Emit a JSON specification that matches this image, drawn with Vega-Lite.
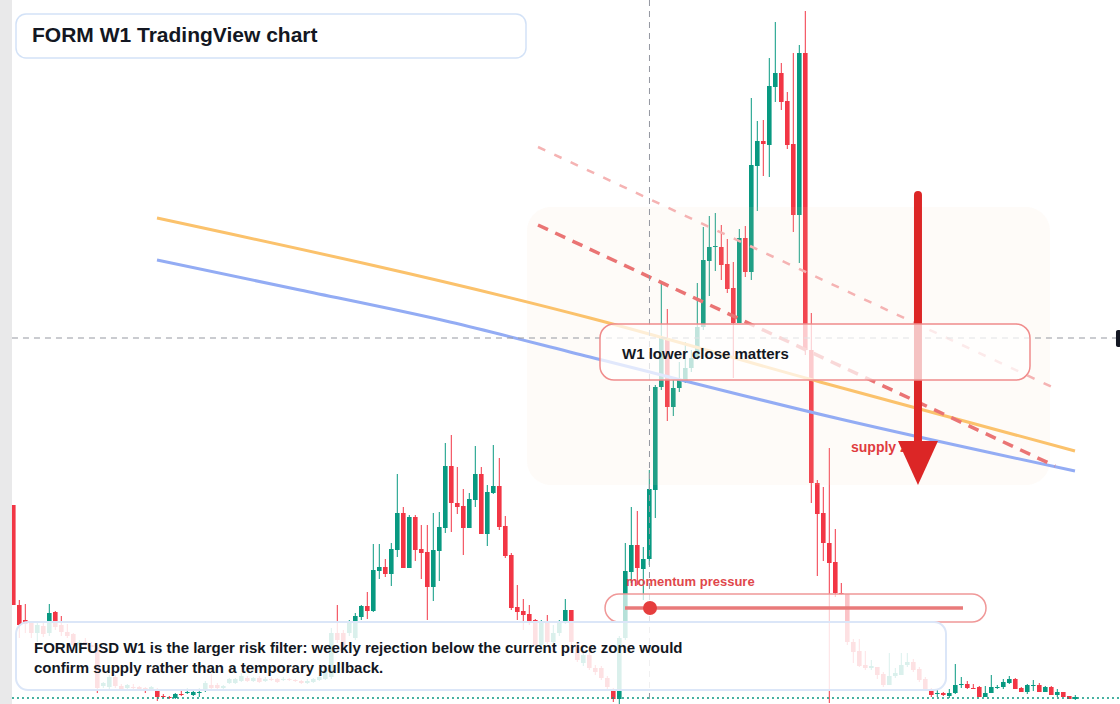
{
  "$schema": "https://vega.github.io/schema/vega-lite/v6.json",
  "width": 1120,
  "height": 704,
  "padding": 0,
  "autosize": {"type": "none"},
  "background": "#ffffff",
  "config": {
    "view": {"stroke": null},
    "scale": {"continuousPadding": 0},
    "axis": {"labels": false, "ticks": false, "domain": false, "title": null, "grid": true, "gridColor": "#c9cdd4", "gridDash": [1, 3], "gridWidth": 1},
    "text": {"font": "Liberation Sans"}
  },
  "datasets": {
    "candles": [
      {"x":2,"o":1.99,"h":1.99,"l":0.99,"c":0.99},
      {"x":3,"o":0.99,"h":1.04,"l":0.66,"c":0.79},
      {"x":4,"o":0.84,"h":1.00,"l":0.71,"c":0.80},
      {"x":5,"o":0.81,"h":0.83,"l":0.66,"c":0.71},
      {"x":6,"o":0.71,"h":0.82,"l":0.62,"c":0.79},
      {"x":7,"o":0.78,"h":0.82,"l":0.67,"c":0.70},
      {"x":8,"o":0.71,"h":1.00,"l":0.68,"c":0.91},
      {"x":9,"o":0.92,"h":0.93,"l":0.74,"c":0.77},
      {"x":10,"o":0.79,"h":0.88,"l":0.68,"c":0.72},
      {"x":11,"o":0.72,"h":0.80,"l":0.66,"c":0.68},
      {"x":12,"o":0.70,"h":0.71,"l":0.56,"c":0.59},
      {"x":13,"o":0.59,"h":0.64,"l":0.54,"c":0.62},
      {"x":14,"o":0.62,"h":0.66,"l":0.56,"c":0.59},
      {"x":15,"o":0.59,"h":0.62,"l":0.54,"c":0.57},
      {"x":16,"o":0.57,"h":0.59,"l":0.11,"c":0.16},
      {"x":17,"o":0.18,"h":0.22,"l":0.16,"c":0.21},
      {"x":18,"o":0.17,"h":0.29,"l":0.15,"c":0.27},
      {"x":19,"o":0.27,"h":0.29,"l":0.16,"c":0.18},
      {"x":20,"o":0.18,"h":0.20,"l":0.14,"c":0.15},
      {"x":21,"o":0.16,"h":0.20,"l":0.15,"c":0.19},
      {"x":22,"o":0.17,"h":0.20,"l":0.14,"c":0.16},
      {"x":23,"o":0.17,"h":0.18,"l":0.13,"c":0.14},
      {"x":24,"o":0.16,"h":0.17,"l":0.11,"c":0.14},
      {"x":25,"o":0.14,"h":0.18,"l":0.13,"c":0.17},
      {"x":26,"o":0.15,"h":0.16,"l":0.03,"c":0.07},
      {"x":27,"o":0.08,"h":0.10,"l":0.06,"c":0.07},
      {"x":28,"o":0.07,"h":0.08,"l":0.05,"c":0.06},
      {"x":29,"o":0.06,"h":0.11,"l":0.05,"c":0.10},
      {"x":30,"o":0.10,"h":0.14,"l":0.08,"c":0.09},
      {"x":31,"o":0.11,"h":0.16,"l":0.10,"c":0.12},
      {"x":32,"o":0.09,"h":0.14,"l":0.08,"c":0.12},
      {"x":33,"o":0.11,"h":0.16,"l":0.07,"c":0.12},
      {"x":34,"o":0.13,"h":0.23,"l":0.12,"c":0.21},
      {"x":35,"o":0.19,"h":0.30,"l":0.15,"c":0.16},
      {"x":36,"o":0.19,"h":0.21,"l":0.15,"c":0.16},
      {"x":37,"o":0.16,"h":0.19,"l":0.14,"c":0.18},
      {"x":38,"o":0.21,"h":0.26,"l":0.20,"c":0.25},
      {"x":39,"o":0.21,"h":0.26,"l":0.20,"c":0.25},
      {"x":40,"o":0.23,"h":0.31,"l":0.22,"c":0.28},
      {"x":41,"o":0.26,"h":0.28,"l":0.22,"c":0.23},
      {"x":42,"o":0.23,"h":0.27,"l":0.22,"c":0.26},
      {"x":43,"o":0.26,"h":0.28,"l":0.21,"c":0.22},
      {"x":44,"o":0.23,"h":0.27,"l":0.22,"c":0.25},
      {"x":45,"o":0.25,"h":0.27,"l":0.23,"c":0.24},
      {"x":46,"o":0.25,"h":0.26,"l":0.21,"c":0.22},
      {"x":47,"o":0.24,"h":0.27,"l":0.23,"c":0.25},
      {"x":48,"o":0.25,"h":0.26,"l":0.23,"c":0.24},
      {"x":49,"o":0.24,"h":0.25,"l":0.22,"c":0.23},
      {"x":50,"o":0.23,"h":0.24,"l":0.20,"c":0.21},
      {"x":51,"o":0.21,"h":0.25,"l":0.20,"c":0.23},
      {"x":52,"o":0.22,"h":0.26,"l":0.21,"c":0.25},
      {"x":53,"o":0.24,"h":0.29,"l":0.23,"c":0.27},
      {"x":54,"o":0.25,"h":0.36,"l":0.24,"c":0.34},
      {"x":55,"o":0.27,"h":0.76,"l":0.25,"c":0.71},
      {"x":56,"o":0.71,"h":0.99,"l":0.61,"c":0.64},
      {"x":57,"o":0.71,"h":0.74,"l":0.54,"c":0.57},
      {"x":58,"o":0.71,"h":0.84,"l":0.68,"c":0.81},
      {"x":59,"o":0.66,"h":0.91,"l":0.64,"c":0.88},
      {"x":60,"o":0.87,"h":0.99,"l":0.84,"c":0.98},
      {"x":61,"o":0.98,"h":1.12,"l":0.85,"c":0.93},
      {"x":62,"o":0.93,"h":1.60,"l":0.92,"c":1.34},
      {"x":63,"o":1.33,"h":1.60,"l":1.25,"c":1.37},
      {"x":64,"o":1.37,"h":1.45,"l":1.27,"c":1.30},
      {"x":65,"o":1.30,"h":1.61,"l":1.18,"c":1.55},
      {"x":66,"o":1.54,"h":2.30,"l":1.47,"c":1.91},
      {"x":67,"o":1.91,"h":1.97,"l":1.36,"c":1.36},
      {"x":68,"o":1.36,"h":1.89,"l":1.36,"c":1.87},
      {"x":69,"o":1.87,"h":1.89,"l":1.43,"c":1.54},
      {"x":70,"o":1.55,"h":1.79,"l":1.25,"c":1.51},
      {"x":71,"o":1.52,"h":1.79,"l":0.84,"c":1.17},
      {"x":72,"o":1.17,"h":1.91,"l":1.03,"c":1.54},
      {"x":73,"o":1.53,"h":1.92,"l":1.23,"c":1.77},
      {"x":74,"o":1.76,"h":2.61,"l":1.71,"c":2.38},
      {"x":75,"o":2.38,"h":2.69,"l":1.72,"c":2.01},
      {"x":76,"o":2.01,"h":2.37,"l":1.90,"c":1.97},
      {"x":77,"o":1.98,"h":2.15,"l":1.49,"c":1.76},
      {"x":78,"o":1.76,"h":2.11,"l":1.76,"c":2.05},
      {"x":79,"o":2.04,"h":2.58,"l":1.97,"c":2.30},
      {"x":80,"o":2.30,"h":2.37,"l":1.70,"c":1.70},
      {"x":81,"o":1.70,"h":2.19,"l":1.58,"c":2.12},
      {"x":82,"o":2.11,"h":2.59,"l":2.10,"c":2.18},
      {"x":83,"o":2.18,"h":2.46,"l":1.74,"c":1.77},
      {"x":84,"o":1.78,"h":1.88,"l":1.46,"c":1.48},
      {"x":85,"o":1.49,"h":1.51,"l":0.94,"c":0.96},
      {"x":86,"o":0.97,"h":1.19,"l":0.84,"c":0.92},
      {"x":87,"o":0.93,"h":1.05,"l":0.74,"c":0.89},
      {"x":88,"o":0.90,"h":0.99,"l":0.79,"c":0.83},
      {"x":89,"o":0.84,"h":0.85,"l":0.57,"c":0.59},
      {"x":90,"o":0.59,"h":0.84,"l":0.57,"c":0.82},
      {"x":91,"o":0.81,"h":0.89,"l":0.60,"c":0.62},
      {"x":92,"o":0.62,"h":0.79,"l":0.59,"c":0.71},
      {"x":93,"o":0.71,"h":0.84,"l":0.68,"c":0.82},
      {"x":94,"o":0.82,"h":1.05,"l":0.80,"c":0.94},
      {"x":95,"o":0.94,"h":0.94,"l":0.59,"c":0.62},
      {"x":96,"o":0.59,"h":0.61,"l":0.42,"c":0.44},
      {"x":97,"o":0.41,"h":0.54,"l":0.38,"c":0.49},
      {"x":98,"o":0.49,"h":0.52,"l":0.34,"c":0.36},
      {"x":99,"o":0.36,"h":0.39,"l":0.29,"c":0.32},
      {"x":100,"o":0.36,"h":0.38,"l":0.24,"c":0.26},
      {"x":101,"o":0.26,"h":0.28,"l":0.15,"c":0.17},
      {"x":102,"o":0.14,"h":0.16,"l":0.02,"c":0.05},
      {"x":103,"o":0.05,"h":0.68,"l":0.00,"c":0.66},
      {"x":104,"o":0.66,"h":1.61,"l":0.64,"c":1.33},
      {"x":105,"o":1.32,"h":1.97,"l":1.21,"c":1.59},
      {"x":106,"o":1.59,"h":1.93,"l":1.19,"c":1.36},
      {"x":107,"o":1.35,"h":1.57,"l":1.04,"c":1.45},
      {"x":108,"o":1.45,"h":2.34,"l":1.39,"c":2.15},
      {"x":109,"o":2.14,"h":3.19,"l":1.86,"c":3.17},
      {"x":110,"o":3.17,"h":4.21,"l":3.14,"c":3.66},
      {"x":111,"o":3.66,"h":3.95,"l":2.83,"c":2.97},
      {"x":112,"o":2.97,"h":3.24,"l":2.88,"c":3.16},
      {"x":113,"o":3.16,"h":3.42,"l":3.12,"c":3.24},
      {"x":114,"o":3.24,"h":3.62,"l":3.21,"c":3.36},
      {"x":115,"o":3.36,"h":3.54,"l":3.32,"c":3.46},
      {"x":116,"o":3.46,"h":4.21,"l":3.44,"c":3.77},
      {"x":117,"o":3.77,"h":4.77,"l":3.74,"c":4.44},
      {"x":118,"o":4.43,"h":4.88,"l":4.08,"c":4.57},
      {"x":119,"o":4.57,"h":4.91,"l":4.33,"c":4.58},
      {"x":120,"o":4.57,"h":4.79,"l":4.24,"c":4.39},
      {"x":121,"o":4.40,"h":4.65,"l":4.11,"c":4.15},
      {"x":122,"o":4.16,"h":4.42,"l":3.26,"c":3.81},
      {"x":123,"o":3.81,"h":4.75,"l":3.81,"c":4.66},
      {"x":124,"o":4.66,"h":4.78,"l":4.27,"c":4.32},
      {"x":125,"o":4.32,"h":6.06,"l":4.24,"c":5.39},
      {"x":126,"o":5.38,"h":5.83,"l":4.93,"c":5.63},
      {"x":127,"o":5.63,"h":5.84,"l":5.28,"c":5.60},
      {"x":128,"o":5.59,"h":6.46,"l":5.27,"c":6.18},
      {"x":129,"o":6.17,"h":6.82,"l":6.02,"c":6.31},
      {"x":130,"o":6.31,"h":6.41,"l":5.94,"c":6.02},
      {"x":131,"o":6.03,"h":6.12,"l":5.55,"c":5.59},
      {"x":132,"o":5.60,"h":6.51,"l":4.72,"c":4.89},
      {"x":133,"o":4.89,"h":6.59,"l":4.41,"c":6.51},
      {"x":134,"o":6.51,"h":6.93,"l":3.49,"c":3.54},
      {"x":135,"o":3.54,"h":3.91,"l":2.01,"c":2.21},
      {"x":136,"o":2.21,"h":2.24,"l":1.28,"c":1.90},
      {"x":137,"o":1.91,"h":2.17,"l":1.43,"c":1.61},
      {"x":138,"o":1.61,"h":2.56,"l":0.01,"c":1.41},
      {"x":139,"o":1.42,"h":1.75,"l":1.07,"c":1.11},
      {"x":140,"o":1.11,"h":1.21,"l":1.09,"c":1.10},
      {"x":141,"o":1.10,"h":1.10,"l":0.59,"c":0.62},
      {"x":142,"o":0.62,"h":0.65,"l":0.41,"c":0.52},
      {"x":143,"o":0.53,"h":0.65,"l":0.37,"c":0.38},
      {"x":144,"o":0.39,"h":0.53,"l":0.34,"c":0.36},
      {"x":145,"o":0.36,"h":0.44,"l":0.34,"c":0.38},
      {"x":146,"o":0.37,"h":0.37,"l":0.25,"c":0.29},
      {"x":147,"o":0.30,"h":0.32,"l":0.17,"c":0.19},
      {"x":148,"o":0.19,"h":0.51,"l":0.19,"c":0.28},
      {"x":149,"o":0.28,"h":0.36,"l":0.26,"c":0.31},
      {"x":150,"o":0.29,"h":0.51,"l":0.29,"c":0.39},
      {"x":151,"o":0.39,"h":0.51,"l":0.37,"c":0.42},
      {"x":152,"o":0.42,"h":0.45,"l":0.32,"c":0.34},
      {"x":153,"o":0.35,"h":0.37,"l":0.22,"c":0.24},
      {"x":154,"o":0.25,"h":0.27,"l":0.14,"c":0.15},
      {"x":155,"o":0.15,"h":0.16,"l":0.07,"c":0.09},
      {"x":156,"o":0.10,"h":0.14,"l":0.07,"c":0.11},
      {"x":157,"o":0.11,"h":0.12,"l":0.08,"c":0.09},
      {"x":158,"o":0.08,"h":0.15,"l":0.06,"c":0.11},
      {"x":159,"o":0.11,"h":0.40,"l":0.10,"c":0.19},
      {"x":160,"o":0.19,"h":0.27,"l":0.16,"c":0.20},
      {"x":161,"o":0.20,"h":0.23,"l":0.15,"c":0.16},
      {"x":162,"o":0.16,"h":0.20,"l":0.15,"c":0.15},
      {"x":163,"o":0.17,"h":0.18,"l":0.07,"c":0.07},
      {"x":164,"o":0.07,"h":0.18,"l":0.07,"c":0.11},
      {"x":165,"o":0.11,"h":0.29,"l":0.11,"c":0.17},
      {"x":166,"o":0.16,"h":0.19,"l":0.15,"c":0.17},
      {"x":167,"o":0.17,"h":0.25,"l":0.15,"c":0.22},
      {"x":168,"o":0.21,"h":0.28,"l":0.20,"c":0.25},
      {"x":169,"o":0.25,"h":0.26,"l":0.15,"c":0.15},
      {"x":170,"o":0.16,"h":0.17,"l":0.12,"c":0.12},
      {"x":171,"o":0.12,"h":0.20,"l":0.10,"c":0.19},
      {"x":172,"o":0.18,"h":0.24,"l":0.13,"c":0.19},
      {"x":173,"o":0.19,"h":0.21,"l":0.12,"c":0.12},
      {"x":174,"o":0.12,"h":0.18,"l":0.12,"c":0.17},
      {"x":175,"o":0.17,"h":0.18,"l":0.09,"c":0.09},
      {"x":176,"o":0.09,"h":0.15,"l":0.07,"c":0.12},
      {"x":177,"o":0.12,"h":0.12,"l":0.07,"c":0.07},
      {"x":178,"o":0.08,"h":0.08,"l":0.05,"c":0.05},
      {"x":179,"o":0.05,"h":0.09,"l":0.04,"c":0.07}
    ]
  },
  "layer": [
    {
      "data": {"name": "candles"},
      "mark": {"type": "rule", "strokeWidth": 1},
      "encoding": {
        "x": {"field": "x", "type": "quantitative", "scale": {"domain": [-0.2167, 186.45], "nice": false, "zero": false, "padding": 0}, "axis": {"values": [20, 46, 72, 99, 125, 151, 177]}},
        "y": {"field": "l", "type": "quantitative", "scale": {"domain": [0, 7.04], "nice": false, "zero": false, "padding": 0}, "axis": {"values": [6.82, 6.483, 6.146, 5.809, 5.472, 5.135, 4.798, 4.461, 4.124, 3.787, 3.45, 3.113, 2.776, 2.439, 2.102, 1.765, 1.428, 1.091, 0.754, 0.417, 0.08]}},
        "y2": {"field": "h"},
        "color": {"condition": {"test": "datum.c >= datum.o", "value": "#089981"}, "value": "#f23645"}
      }
    },
    {
      "data": {"name": "candles"},
      "mark": {"type": "bar", "size": 4.6},
      "encoding": {
        "x": {"field": "x", "type": "quantitative", "scale": {"domain": [-0.2167, 186.45], "nice": false, "zero": false, "padding": 0}, "axis": null},
        "y": {"field": "o", "type": "quantitative", "scale": {"domain": [0, 7.04], "nice": false, "zero": false, "padding": 0}, "axis": null},
        "y2": {"field": "c"},
        "color": {"condition": {"test": "datum.c >= datum.o", "value": "#089981"}, "value": "#f23645"}
      }
    },
    {
      "data": {"values": [{"x": 87.62, "x2": 174.78, "y": 4.97, "y2": 2.19}]},
      "mark": {"type": "rect", "fill": "#f5d3bd", "opacity": 0.1, "cornerRadius": 24},
      "encoding": {
        "x": {"field": "x", "type": "quantitative", "scale": {"domain": [-0.2167, 186.45], "nice": false, "zero": false, "padding": 0}, "axis": null},
        "x2": {"field": "x2"},
        "y": {"field": "y", "type": "quantitative", "scale": {"domain": [0, 7.04], "nice": false, "zero": false, "padding": 0}, "axis": null},
        "y2": {"field": "y2"}
      }
    },
    {
      "data": {"values": [
        {"s": "ema", "x": 25.95, "y": 4.86}, {"s": "ema", "x": 98.12, "y": 3.86}, {"s": "ema", "x": 136.45, "y": 3.22}, {"s": "ema", "x": 178.95, "y": 2.53}
      ]},
      "mark": {"type": "line", "stroke": "#fbc26c", "strokeWidth": 3, "interpolate": "monotone"},
      "encoding": {
        "x": {"field": "x", "type": "quantitative", "scale": {"domain": [-0.2167, 186.45], "nice": false, "zero": false, "padding": 0}, "axis": null},
        "y": {"field": "y", "type": "quantitative", "scale": {"domain": [0, 7.04], "nice": false, "zero": false, "padding": 0}, "axis": null}
      }
    },
    {
      "data": {"values": [
        {"s": "sma", "x": 25.95, "y": 4.44}, {"s": "sma", "x": 49.78, "y": 4.14}, {"s": "sma", "x": 74.78, "y": 3.82}, {"s": "sma", "x": 98.12, "y": 3.47}, {"s": "sma", "x": 139.78, "y": 2.85}, {"s": "sma", "x": 178.95, "y": 2.33}
      ]},
      "mark": {"type": "line", "stroke": "#93acf4", "strokeWidth": 3, "interpolate": "monotone"},
      "encoding": {
        "x": {"field": "x", "type": "quantitative", "scale": {"domain": [-0.2167, 186.45], "nice": false, "zero": false, "padding": 0}, "axis": null},
        "y": {"field": "y", "type": "quantitative", "scale": {"domain": [0, 7.04], "nice": false, "zero": false, "padding": 0}, "axis": null}
      }
    },
    {
      "data": {"values": [{"x": 89.45, "y": 5.57, "x2": 175.12, "y2": 3.17}]},
      "mark": {"type": "rule", "stroke": "#f5b3b3", "strokeWidth": 2.5, "strokeDash": [8, 10]},
      "encoding": {
        "x": {"field": "x", "type": "quantitative", "scale": {"domain": [-0.2167, 186.45], "nice": false, "zero": false, "padding": 0}, "axis": null},
        "x2": {"field": "x2"},
        "y": {"field": "y", "type": "quantitative", "scale": {"domain": [0, 7.04], "nice": false, "zero": false, "padding": 0}, "axis": null},
        "y2": {"field": "y2"}
      }
    },
    {
      "data": {"values": [{"x": 89.45, "y": 4.79, "x2": 175.62, "y2": 2.38}]},
      "mark": {"type": "rule", "stroke": "#ea7474", "strokeWidth": 3.5, "strokeDash": [11, 8]},
      "encoding": {
        "x": {"field": "x", "type": "quantitative", "scale": {"domain": [-0.2167, 186.45], "nice": false, "zero": false, "padding": 0}, "axis": null},
        "x2": {"field": "x2"},
        "y": {"field": "y", "type": "quantitative", "scale": {"domain": [0, 7.04], "nice": false, "zero": false, "padding": 0}, "axis": null},
        "y2": {"field": "y2"}
      }
    },
    {
      "data": {"values": [{"x": 108.03}]},
      "mark": {"type": "rule", "stroke": "#9598a1", "strokeWidth": 1, "strokeDash": [6, 5]},
      "encoding": {
        "x": {"field": "x", "type": "quantitative", "scale": {"domain": [-0.2167, 186.45], "nice": false, "zero": false, "padding": 0}, "axis": null}
      }
    },
    {
      "data": {"values": [{"y": 3.66, "x": 1.78, "x2": 186.45}]},
      "mark": {"type": "rule", "stroke": "#9598a1", "strokeWidth": 1, "strokeDash": [6, 5]},
      "encoding": {
        "x": {"field": "x", "type": "quantitative", "scale": {"domain": [-0.2167, 186.45], "nice": false, "zero": false, "padding": 0}, "axis": null},
        "x2": {"field": "x2"},
        "y": {"field": "y", "type": "quantitative", "scale": {"domain": [0, 7.04], "nice": false, "zero": false, "padding": 0}, "axis": null}
      }
    },
    {
      "data": {"values": [{"y": 0.06, "x": 1.78, "x2": 186.45}]},
      "mark": {"type": "rule", "stroke": "#089981", "strokeWidth": 1.5, "strokeDash": [2, 3]},
      "encoding": {
        "x": {"field": "x", "type": "quantitative", "scale": {"domain": [-0.2167, 186.45], "nice": false, "zero": false, "padding": 0}, "axis": null},
        "x2": {"field": "x2"},
        "y": {"field": "y", "type": "quantitative", "scale": {"domain": [0, 7.04], "nice": false, "zero": false, "padding": 0}, "axis": null}
      }
    },
    {
      "data": {"values": [{"x": 152.78, "y": 5.09, "y2": 2.62}]},
      "mark": {"type": "rule", "stroke": "#dc2626", "strokeWidth": 8, "strokeCap": "round"},
      "encoding": {
        "x": {"field": "x", "type": "quantitative", "scale": {"domain": [-0.2167, 186.45], "nice": false, "zero": false, "padding": 0}, "axis": null},
        "y": {"field": "y", "type": "quantitative", "scale": {"domain": [0, 7.04], "nice": false, "zero": false, "padding": 0}, "axis": null},
        "y2": {"field": "y2"}
      }
    },
    {
      "data": {"values": [{"x": 99.78, "x2": 171.45, "y": 3.80, "y2": 3.24}]},
      "mark": {"type": "rect", "fill": "#ffffff", "fillOpacity": 0.72, "stroke": "#f08c8c", "strokeWidth": 1.5, "cornerRadius": 14},
      "encoding": {
        "x": {"field": "x", "type": "quantitative", "scale": {"domain": [-0.2167, 186.45], "nice": false, "zero": false, "padding": 0}, "axis": null},
        "x2": {"field": "x2"},
        "y": {"field": "y", "type": "quantitative", "scale": {"domain": [0, 7.04], "nice": false, "zero": false, "padding": 0}, "axis": null},
        "y2": {"field": "y2"}
      }
    },
    {
      "data": {"values": [{"x": 103.45, "y": 3.50, "t": "W1 lower close matters"}]},
      "mark": {"type": "text", "align": "left", "baseline": "middle", "fontSize": 15, "fontWeight": "bold", "color": "#131722"},
      "encoding": {
        "x": {"field": "x", "type": "quantitative", "scale": {"domain": [-0.2167, 186.45], "nice": false, "zero": false, "padding": 0}, "axis": null},
        "y": {"field": "y", "type": "quantitative", "scale": {"domain": [0, 7.04], "nice": false, "zero": false, "padding": 0}, "axis": null},
        "text": {"field": "t"}
      }
    },
    {
      "data": {"values": [{"x": 141.62, "y": 2.56, "t": "supply zone"}]},
      "mark": {"type": "text", "align": "left", "baseline": "middle", "fontSize": 14, "fontWeight": "bold", "color": "#e03b3f"},
      "encoding": {
        "x": {"field": "x", "type": "quantitative", "scale": {"domain": [-0.2167, 186.45], "nice": false, "zero": false, "padding": 0}, "axis": null},
        "y": {"field": "y", "type": "quantitative", "scale": {"domain": [0, 7.04], "nice": false, "zero": false, "padding": 0}, "axis": null},
        "text": {"field": "t"}
      }
    },
    {
      "data": {"values": [{"x": 152.78, "y": 2.43}]},
      "mark": {"type": "point", "shape": "M-1,-1L1,-1L0,1.2Z", "size": 1600, "filled": true, "fill": "#dc2626", "opacity": 1, "strokeWidth": 0},
      "encoding": {
        "x": {"field": "x", "type": "quantitative", "scale": {"domain": [-0.2167, 186.45], "nice": false, "zero": false, "padding": 0}, "axis": null},
        "y": {"field": "y", "type": "quantitative", "scale": {"domain": [0, 7.04], "nice": false, "zero": false, "padding": 0}, "axis": null}
      }
    },
    {
      "data": {"values": [{"x": 100.62, "x2": 164.12, "y": 1.10, "y2": 0.82}]},
      "mark": {"type": "rect", "fill": "#ffffff", "fillOpacity": 0.7, "stroke": "#f09898", "strokeWidth": 1.5, "cornerRadius": 14},
      "encoding": {
        "x": {"field": "x", "type": "quantitative", "scale": {"domain": [-0.2167, 186.45], "nice": false, "zero": false, "padding": 0}, "axis": null},
        "x2": {"field": "x2"},
        "y": {"field": "y", "type": "quantitative", "scale": {"domain": [0, 7.04], "nice": false, "zero": false, "padding": 0}, "axis": null},
        "y2": {"field": "y2"}
      }
    },
    {
      "data": {"values": [{"x": 103.95, "x2": 160.28, "y": 0.96}]},
      "mark": {"type": "rule", "stroke": "#e97a7a", "strokeWidth": 3.5},
      "encoding": {
        "x": {"field": "x", "type": "quantitative", "scale": {"domain": [-0.2167, 186.45], "nice": false, "zero": false, "padding": 0}, "axis": null},
        "x2": {"field": "x2"},
        "y": {"field": "y", "type": "quantitative", "scale": {"domain": [0, 7.04], "nice": false, "zero": false, "padding": 0}, "axis": null}
      }
    },
    {
      "data": {"values": [{"x": 108.12, "y": 0.96}]},
      "mark": {"type": "point", "shape": "circle", "size": 196, "filled": true, "fill": "#e53e3e", "opacity": 1, "strokeWidth": 0},
      "encoding": {
        "x": {"field": "x", "type": "quantitative", "scale": {"domain": [-0.2167, 186.45], "nice": false, "zero": false, "padding": 0}, "axis": null},
        "y": {"field": "y", "type": "quantitative", "scale": {"domain": [0, 7.04], "nice": false, "zero": false, "padding": 0}, "axis": null}
      }
    },
    {
      "data": {"values": [{"x": 104.12, "y": 1.22, "t": "momentum pressure"}]},
      "mark": {"type": "text", "align": "left", "baseline": "middle", "fontSize": 13, "fontWeight": "bold", "color": "#e0474b"},
      "encoding": {
        "x": {"field": "x", "type": "quantitative", "scale": {"domain": [-0.2167, 186.45], "nice": false, "zero": false, "padding": 0}, "axis": null},
        "y": {"field": "y", "type": "quantitative", "scale": {"domain": [0, 7.04], "nice": false, "zero": false, "padding": 0}, "axis": null},
        "text": {"field": "t"}
      }
    },
    {
      "data": {"values": [{"x": 2.45, "x2": 157.45, "y": 0.82, "y2": 0.14}]},
      "mark": {"type": "rect", "fill": "#ffffff", "fillOpacity": 0.85, "stroke": "#dbe6f8", "strokeWidth": 2, "cornerRadius": 12},
      "encoding": {
        "x": {"field": "x", "type": "quantitative", "scale": {"domain": [-0.2167, 186.45], "nice": false, "zero": false, "padding": 0}, "axis": null},
        "x2": {"field": "x2"},
        "y": {"field": "y", "type": "quantitative", "scale": {"domain": [0, 7.04], "nice": false, "zero": false, "padding": 0}, "axis": null},
        "y2": {"field": "y2"}
      }
    },
    {
      "data": {"values": [
        {"x": 5.45, "y": 0.56, "t": "FORMFUSD W1 is the larger risk filter: weekly rejection below the current price zone would"},
        {"x": 5.45, "y": 0.365, "t": "confirm supply rather than a temporary pullback."}
      ]},
      "mark": {"type": "text", "align": "left", "baseline": "middle", "fontSize": 15, "fontWeight": "bold", "color": "#131722"},
      "encoding": {
        "x": {"field": "x", "type": "quantitative", "scale": {"domain": [-0.2167, 186.45], "nice": false, "zero": false, "padding": 0}, "axis": null},
        "y": {"field": "y", "type": "quantitative", "scale": {"domain": [0, 7.04], "nice": false, "zero": false, "padding": 0}, "axis": null},
        "text": {"field": "t"}
      }
    },
    {
      "data": {"values": [{"x": 2.45, "x2": 87.45, "y": 6.90, "y2": 6.46}]},
      "mark": {"type": "rect", "fill": "#ffffff", "fillOpacity": 0.95, "stroke": "#d3e2f7", "strokeWidth": 1.5, "cornerRadius": 10},
      "encoding": {
        "x": {"field": "x", "type": "quantitative", "scale": {"domain": [-0.2167, 186.45], "nice": false, "zero": false, "padding": 0}, "axis": null},
        "x2": {"field": "x2"},
        "y": {"field": "y", "type": "quantitative", "scale": {"domain": [0, 7.04], "nice": false, "zero": false, "padding": 0}, "axis": null},
        "y2": {"field": "y2"}
      }
    },
    {
      "data": {"values": [{"x": 5.12, "y": 6.68, "t": "FORM W1 TradingView chart"}]},
      "mark": {"type": "text", "align": "left", "baseline": "middle", "fontSize": 21, "fontWeight": "bold", "color": "#131722"},
      "encoding": {
        "x": {"field": "x", "type": "quantitative", "scale": {"domain": [-0.2167, 186.45], "nice": false, "zero": false, "padding": 0}, "axis": null},
        "y": {"field": "y", "type": "quantitative", "scale": {"domain": [0, 7.04], "nice": false, "zero": false, "padding": 0}, "axis": null},
        "text": {"field": "t"}
      }
    },
    {
      "data": {"values": [{"x": -0.2167, "x2": 1.78, "y": 0, "y2": 7.04}]},
      "mark": {"type": "rect", "fill": "#e9e9ea"},
      "encoding": {
        "x": {"field": "x", "type": "quantitative", "scale": {"domain": [-0.2167, 186.45], "nice": false, "zero": false, "padding": 0}, "axis": null},
        "x2": {"field": "x2"},
        "y": {"field": "y", "type": "quantitative", "scale": {"domain": [0, 7.04], "nice": false, "zero": false, "padding": 0}, "axis": null},
        "y2": {"field": "y2"}
      }
    },
    {
      "data": {"values": [{"x": 185.78, "x2": 186.6, "y": 3.74, "y2": 3.57}]},
      "mark": {"type": "rect", "fill": "#131722", "cornerRadius": 2},
      "encoding": {
        "x": {"field": "x", "type": "quantitative", "scale": {"domain": [-0.2167, 186.45], "nice": false, "zero": false, "padding": 0}, "axis": null},
        "x2": {"field": "x2"},
        "y": {"field": "y", "type": "quantitative", "scale": {"domain": [0, 7.04], "nice": false, "zero": false, "padding": 0}, "axis": null},
        "y2": {"field": "y2"}
      }
    }
  ]
}
